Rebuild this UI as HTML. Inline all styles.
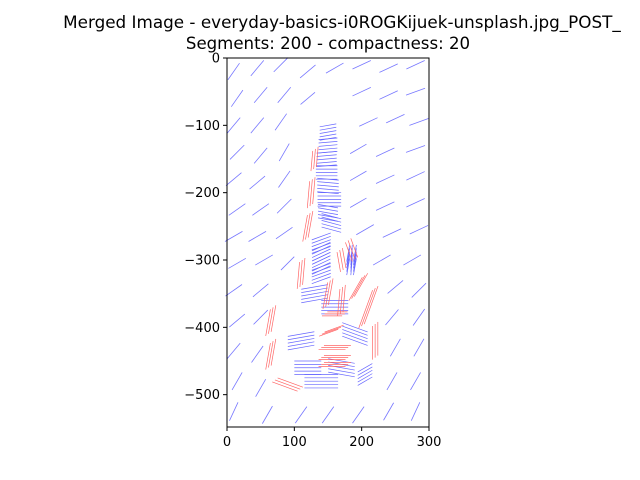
<!DOCTYPE html>
<html><head><meta charset="utf-8"><style>
body{margin:0;background:#fff;}
svg{display:block;font-family:"DejaVu Sans","Liberation Sans",sans-serif;}
</style></head><body>
<svg id="chart" width="640" height="480" viewBox="0 0 640 480">
<rect width="640" height="480" fill="#fff"/>
<text x="342" y="28" text-anchor="middle" font-size="16.8">Merged Image - everyday-basics-i0ROGKijuek-unsplash.jpg_POST_</text>
<text x="328" y="49" text-anchor="middle" font-size="16.6">Segments: 200 - compactness: 20</text>
<g id="plot"></g>
<rect x="227" y="58" width="202" height="369" fill="none" stroke="#000" stroke-width="1"/>
<g id="axes"></g>
</svg>
<script>
const xTicks=[0,100,200,300];
const yTicks=[0,-100,-200,-300,-400,-500];
// background strokes: [cx, cy, angleDeg, length] in data units
const bgStrokes=[
[10,-20,55,30],[45,-15,50,30],[80,-10,45,30],[120,-20,40,30],[160,-15,30,30],[200,-10,25,30],[240,-15,25,30],[280,-10,25,30],
[15,-60,55,30],[50,-55,50,30],[85,-55,50,30],[120,-60,40,28],[200,-50,25,30],[240,-55,25,30],[280,-50,20,30],
[10,-100,50,30],[45,-100,50,30],[80,-95,55,30],[210,-95,25,30],[250,-90,25,30],[285,-95,20,30],
[15,-140,45,30],[50,-145,50,30],[85,-140,60,30],[195,-135,30,28],[235,-140,25,30],[280,-135,20,30],
[10,-180,40,30],[45,-185,40,30],[85,-180,55,30],[195,-175,30,28],[235,-180,25,30],[280,-175,25,30],
[15,-225,35,30],[50,-225,35,30],[85,-220,45,30],[195,-215,30,28],[235,-220,25,30],[280,-215,25,30],
[10,-265,30,30],[45,-265,30,30],[85,-260,35,30],[205,-255,30,30],[245,-260,25,30],[285,-255,25,30],
[15,-305,30,30],[55,-300,30,30],[90,-305,45,28],[230,-300,30,30],[275,-300,30,30],
[10,-345,35,30],[50,-345,40,30],[250,-340,40,30],[285,-345,45,30],
[15,-390,40,30],[50,-385,45,30],[245,-385,50,30],[285,-385,55,30],
[10,-435,50,30],[45,-440,55,30],[250,-430,60,30],[285,-430,60,30],
[15,-480,60,30],[50,-490,60,30],[245,-480,60,30],[280,-480,60,30],
[10,-525,65,30],[60,-530,60,30],[110,-530,55,30],[150,-530,55,30],[195,-530,55,30],[240,-525,60,30],[280,-525,65,30]
];
// inner blue strokes
const blueInner=[
[150,-110,10,25],[150,-130,5,28],[148,-150,5,30],[148,-170,0,32],[150,-190,-5,32],[152,-210,0,35],[150,-230,-10,30],[155,-245,-15,30],
[140,-275,20,30],[140,-290,25,30],[140,-305,25,30],[140,-320,20,30],[180,-300,80,25],[185,-300,85,25],[190,-300,80,25],
[130,-350,10,40],[160,-370,0,40],[110,-420,10,40],[190,-410,-20,40],[120,-460,0,40],[170,-460,-10,40],[140,-480,0,50],[205,-470,30,25]
];
// red strokes
const redStrokes=[
[130,-150,85,30],[125,-200,85,40],[120,-250,80,40],[110,-320,85,40],[170,-300,100,30],[185,-285,110,30],
[150,-350,80,40],[170,-360,85,40],[160,-380,0,30],[155,-405,20,30],[160,-430,0,40],[160,-445,0,40],[160,-455,0,40],
[210,-370,70,60],[220,-420,90,50],[65,-390,80,40],[65,-440,80,40],[90,-485,-20,40],[195,-340,60,40]
];
const L=227,T=58,S=202/300;
const xs=v=>L+v*S, ys=v=>T-v*S;
const plot=document.getElementById('plot'), axes=document.getElementById('axes');
const NS='http://www.w3.org/2000/svg';
function stroke(d,color,name,w){
  const a=d[2]*Math.PI/180,h=d[3]/2;
  const l=document.createElementNS(NS,'line');
  l.setAttribute('x1',xs(d[0]-Math.cos(a)*h));l.setAttribute('y1',ys(d[1]-Math.sin(a)*h));
  l.setAttribute('x2',xs(d[0]+Math.cos(a)*h));l.setAttribute('y2',ys(d[1]+Math.sin(a)*h));
  l.setAttribute('stroke',color);l.setAttribute('stroke-width',w);
  
  
  plot.appendChild(l);
}
bgStrokes.forEach(d=>stroke(d,'#7777ff','background-stroke',0.8));
blueInner.forEach(d=>{for(let k=-2;k<=2;k++)stroke([d[0],d[1]+k*5,d[2],d[3]],'#6666ff','inner-stroke',0.7);});
redStrokes.forEach(d=>{for(let k=-1;k<=1;k++)stroke([d[0]+k*4,d[1]+k*3,d[2],d[3]],'#ff6666','red-stroke',0.7);});
xTicks.forEach(v=>{
  const t=document.createElementNS(NS,'line');
  t.setAttribute('x1',xs(v));t.setAttribute('x2',xs(v));t.setAttribute('y1',427);t.setAttribute('y2',431);t.setAttribute('stroke','#000');
  
  
  axes.appendChild(t);
  const s=document.createElementNS(NS,'text');
  s.setAttribute('x',xs(v));s.setAttribute('y',446);s.setAttribute('text-anchor','middle');s.setAttribute('font-size','13');
  s.textContent=v;
  
  
  axes.appendChild(s);
});
yTicks.forEach(v=>{
  const t=document.createElementNS(NS,'line');
  t.setAttribute('x1',223);t.setAttribute('x2',227);t.setAttribute('y1',ys(v));t.setAttribute('y2',ys(v));t.setAttribute('stroke','#000');
  
  
  axes.appendChild(t);
  const s=document.createElementNS(NS,'text');
  s.setAttribute('x',220);s.setAttribute('y',ys(v)+4.5);s.setAttribute('text-anchor','end');s.setAttribute('font-size','13');
  s.textContent=v<0?'\u2212'+(-v):v;
  
  
  axes.appendChild(s);
});
</script>
</body></html>
